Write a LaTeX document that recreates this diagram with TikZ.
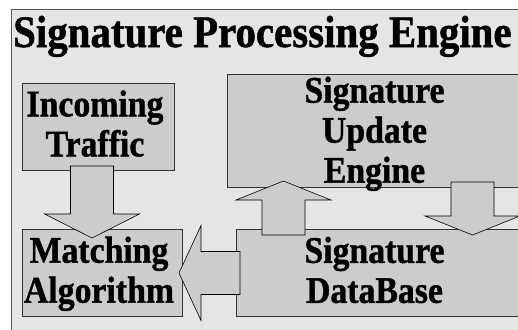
\documentclass[tikz,border=0pt]{standalone}
\usepackage{fontspec}
\setmainfont{Liberation Serif}[BoldFeatures={FakeBold=1.2}]
\definecolor{panelgray}{gray}{0.9}
\definecolor{blockgray}{gray}{0.8}
\tikzset{
  block/.style={draw=black!80, fill=blockgray, line width=0.8pt, inner sep=0pt,
    anchor=north west},
  narrow/.style={xscale=0.9, transform shape},
  blocktext/.style={narrow, font=\fontsize{37.5}{40}\selectfont\bfseries,
    align=center, inner sep=0pt},
  pics/fatarrow/.style 2 args={code={
    \draw[draw=black, fill=blockgray, line width=0.6pt] (0,-21.5) -- (#1-#2,-21.5)
      -- (#1-#2,-47.5) -- (#1,0) -- (#1-#2,47.5) -- (#1-#2,21.5) -- (0,21.5) -- cycle;
  }}
}
\begin{document}
\begin{tikzpicture}[x=1pt, y=-1pt]
    \useasboundingbox (0,0) rectangle (518,329);
    \draw[draw=black!65, fill=panelgray, line width=1pt] (11,10) rectangle (540,345);

    % Title
    \node[narrow, xscale=1.01, anchor=base west, inner sep=0pt,
      font=\fontsize{45}{54}\selectfont\bfseries]
      (title) at (13,47) {Signature Processing Engine};

    % Boxes
    \node[block, minimum width=152, minimum height=87] (inc) at (22,83) {};
    \node[block, minimum width=300, minimum height=113] (upd) at (227,74) {};
    \node[block, minimum width=160, minimum height=87] (match) at (22,229) {};
    \node[block, minimum width=290, minimum height=87] (sigdb) at (236,229) {};

    % Arrows
    \pic[rotate=-90] (flowin) at (92,166) {fatarrow={72}{24}};
    \pic[rotate=180] (flowmatch) at (240,273) {fatarrow={61}{22}};
    \pic[rotate=90] (flowupd) at (283.5,235) {fatarrow={54}{19}};
    \pic[rotate=-90] (flowdb) at (472.5,182) {fatarrow={53}{19}};

    % Labels
    \node[blocktext] (inctext) at (95,123.5) {Incoming\\Traffic};
    \node[blocktext] (updtext) at (374.5,133.8) {Signature\\Update\\Engine};
    \node[blocktext] (matchtext) at (99,273.8) {Matching\\Algorithm};
    \node[blocktext] (sigdbtext) at (374.5,270) {Signature\\DataBase};
\end{tikzpicture}
\end{document}
